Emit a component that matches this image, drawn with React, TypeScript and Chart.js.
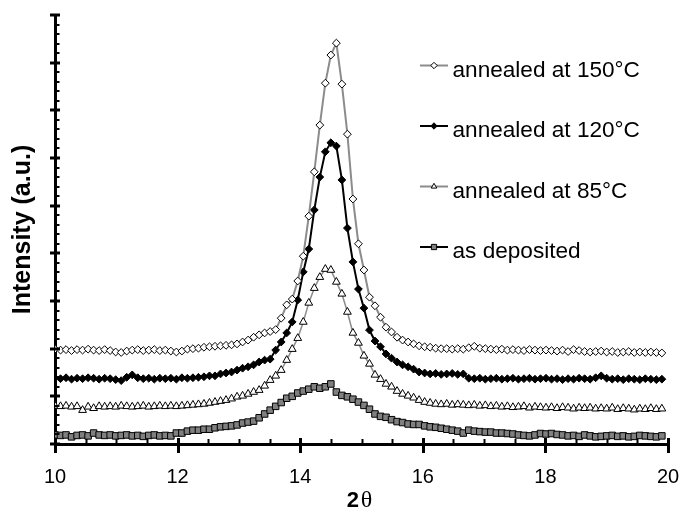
import React, { useEffect, useRef } from 'react';
import { Chart, registerables } from 'chart.js';

Chart.register(...registerables);

// 2θ positions (degrees)
const twoTheta = [
  10.00, 10.09, 10.18, 10.27, 10.36, 10.45, 10.54, 10.63, 10.72, 10.81,
  10.90, 10.99, 11.08, 11.17, 11.26, 11.35, 11.44, 11.53, 11.62, 11.71,
  11.80, 11.89, 11.98, 12.07, 12.16, 12.25, 12.34, 12.43, 12.52, 12.61,
  12.70, 12.79, 12.88, 12.97, 13.06, 13.15, 13.24, 13.33, 13.42, 13.51,
  13.60, 13.69, 13.78, 13.87, 13.96, 14.05, 14.14, 14.23, 14.32, 14.41,
  14.50, 14.59, 14.68, 14.77, 14.86, 14.95, 15.04, 15.13, 15.22, 15.31,
  15.40, 15.49, 15.58, 15.67, 15.76, 15.85, 15.94, 16.03, 16.12, 16.21,
  16.30, 16.39, 16.48, 16.57, 16.66, 16.75, 16.84, 16.93, 17.02, 17.11,
  17.20, 17.29, 17.38, 17.47, 17.56, 17.65, 17.74, 17.83, 17.92, 18.01,
  18.10, 18.19, 18.28, 18.37, 18.46, 18.55, 18.64, 18.73, 18.82, 18.91,
  19.00, 19.09, 19.18, 19.27, 19.36, 19.45, 19.54, 19.63, 19.72, 19.81,
  19.90,
];

const annealed150 = [
  199, 197, 198, 196, 198, 197, 199, 197, 196, 198,
  196, 193, 192, 195, 197, 198, 196, 197, 198, 196,
  197, 195, 193, 195, 199, 200, 201, 203, 204, 205,
  206, 207, 208, 210, 214, 218, 224, 229, 233, 236,
  240, 264, 292, 304, 342, 394, 478, 571, 669, 757,
  816, 841, 755, 650, 514, 420, 365, 308, 290, 266,
  245, 235, 224, 218, 214, 210, 206, 204, 203, 201,
  200, 200, 199, 200, 199, 202, 205, 201, 200, 199,
  198, 199, 197, 198, 197, 196, 198, 197, 196, 197,
  196, 195, 197, 194, 198, 196, 194, 193, 194, 195,
  193, 194, 192, 193, 194, 192, 193, 192, 193, 192,
  191,
];

const annealed120 = [
  138, 137, 139, 136, 138, 137, 139, 138, 136, 138,
  137, 135, 133, 140, 145, 139, 137, 138, 136, 138,
  137, 138, 136, 139, 138, 139, 140, 141, 143, 143,
  147, 149, 151, 155, 159, 162, 166, 172, 176, 178,
  197, 214, 233, 256, 302, 361, 409, 491, 560, 613,
  632, 625, 554, 453, 382, 325, 285, 239, 216, 204,
  189, 180, 172, 166, 162, 157, 151, 149, 147, 148,
  146, 147, 148, 146, 147, 138, 137, 138, 136, 137,
  138, 136, 137, 138, 136, 137, 138, 136, 137, 138,
  136, 137, 135, 137, 136, 138, 137, 136, 139, 143,
  138, 136, 137, 135, 137, 136, 135, 137, 136, 135,
  136,
];

const annealed85 = [
  80, 79, 80, 78, 79, 71, 78, 75, 79, 78,
  79, 78, 80, 79, 78, 79, 80, 78, 79, 80,
  79, 80, 79, 80, 81, 82, 83, 84, 86, 88,
  90, 92, 95, 99, 101, 105, 109, 113, 122, 134,
  143, 155, 176, 199, 222, 256, 296, 327, 350, 367,
  365, 340, 315, 277, 233, 212, 185, 168, 145, 136,
  126, 120, 111, 105, 101, 97, 92, 88, 86, 84,
  83, 84, 82, 83, 82, 81, 82, 80, 81, 79,
  80, 78, 79, 77, 78, 79, 76, 78, 77, 76,
  77, 75, 77, 76, 74, 76, 75, 76, 74, 75,
  74, 76, 73, 75, 74, 72, 74, 73, 75, 73,
  74,
];

const asDeposited = [
  19, 18, 19, 15, 18, 19, 17, 23, 19, 18,
  19, 17, 18, 19, 17, 18, 16, 18, 19, 17,
  18, 17, 23, 23, 27, 29, 29, 31, 31, 34,
  36, 37, 38, 40, 44, 46, 48, 55, 63, 71,
  79, 87, 96, 100, 107, 111, 115, 120, 117, 120,
  126, 109, 102, 99, 94, 88, 81, 73, 63, 58,
  56, 51, 47, 45, 42, 41, 41, 38, 36, 35,
  33, 31, 29, 27, 23, 29, 27, 26, 25, 25,
  23, 23, 22, 21, 19, 18, 17, 19, 22, 21,
  22, 20, 19, 17, 18, 16, 19, 17, 15, 16,
  17, 18, 16, 17, 15, 16, 18, 17, 16, 15,
  17,
];

const seriesLabels = ['annealed at 150°C', 'annealed at 120°C', 'annealed at 85°C', 'as deposited'];
const xTitleMain = '2';
const xTitleGreek = 'θ';
const yTitle = 'Intensity (a.u.)';

const SANS = "'Liberation Sans', Arial, Helvetica, sans-serif";
const SERIF = "'Liberation Serif', 'Times New Roman', serif";
const GRAY = '#8c8c8c';

function drawMarker(ctx: CanvasRenderingContext2D, style: string, x: number, y: number, r: number, fill: string) {
  ctx.beginPath();
  if (style === 'rectRot') {
    ctx.moveTo(x, y - r);
    ctx.lineTo(x + r, y);
    ctx.lineTo(x, y + r);
    ctx.lineTo(x - r, y);
    ctx.closePath();
  } else if (style === 'triangle') {
    ctx.moveTo(x, y - r);
    ctx.lineTo(x + r * 0.866, y + r * 0.5);
    ctx.lineTo(x - r * 0.866, y + r * 0.5);
    ctx.closePath();
  } else {
    const s = r * 0.75;
    ctx.rect(x - s, y - s, 2 * s, 2 * s);
  }
  ctx.fillStyle = fill;
  ctx.fill();
  ctx.lineWidth = 1;
  ctx.strokeStyle = '#000';
  ctx.stroke();
}

const decorPlugin = {
  id: 'decor',
  afterDraw(chart: any) {
    const ctx: CanvasRenderingContext2D = chart.ctx;
    const xs = chart.scales.x;
    const ys = chart.scales.y;
    const area = chart.chartArea;
    ctx.save();
    ctx.strokeStyle = '#000';
    ctx.lineCap = 'butt';
    const seg = (x1: number, y1: number, x2: number, y2: number) => {
      ctx.beginPath();
      ctx.moveTo(x1, y1);
      ctx.lineTo(x2, y2);
      ctx.stroke();
    };
    // x-axis ticks: major every 2, minor every 0.5
    for (let i = 0; i <= 20; i++) {
      const v = 10 + i * 0.5;
      const px = Math.round(xs.getPixelForValue(v)) + 0.5;
      if (i % 4 === 0) {
        ctx.lineWidth = 3;
        seg(px, area.bottom - 6, px, area.bottom + 9);
      } else {
        ctx.lineWidth = 2;
        seg(px, area.bottom - 5, px, area.bottom + 1);
      }
    }
    // y-axis ticks: major every 100, minor every 20
    for (let i = 0; i <= 45; i++) {
      const v = i * 20;
      const py = Math.round(ys.getPixelForValue(v));
      if (i % 5 === 0) {
        ctx.lineWidth = 3;
        seg(area.left - 5, py, area.left + 5, py);
      } else {
        ctx.lineWidth = 2;
        seg(area.left, py, area.left + 4.5, py);
      }
    }
    // legend
    const ds = chart.data.datasets;
    ctx.textBaseline = 'alphabetic';
    ctx.textAlign = 'left';
    ctx.font = `22.6px ${SANS}`;
    for (let i = 0; i < ds.length; i++) {
      const d = ds[i];
      const ly = 65.5 + i * 60.5;
      ctx.strokeStyle = d.borderColor;
      ctx.lineWidth = 2;
      seg(420, ly, 448, ly);
      drawMarker(ctx, d.pointStyle, 434, ly, d.pointStyle === 'rect' ? 3.5 : 3.2, d.pointBackgroundColor);
      ctx.fillStyle = '#000';
      ctx.fillText(d.label, 452.5, ly + 11);
    }
    // x title "2θ"
    ctx.font = `bold 22px ${SANS}`;
    const w2 = ctx.measureText(xTitleMain).width;
    ctx.font = `24px ${SERIF}`;
    const wt = ctx.measureText(xTitleGreek).width;
    const total = w2 + 2 + wt;
    const x0 = 359.5 - total / 2;
    ctx.fillStyle = '#000';
    ctx.font = `bold 22px ${SANS}`;
    ctx.fillText(xTitleMain, x0, 507);
    ctx.font = `24px ${SERIF}`;
    ctx.fillText(xTitleGreek, x0 + w2 + 2, 507);
    ctx.restore();
  },
};

export default function App() {
  const ref = useRef<HTMLCanvasElement>(null);
  useEffect(() => {
    const toPts = (arr: number[]) => twoTheta.map((x, i) => ({ x, y: arr[i] }));
    const chart = new Chart(ref.current as HTMLCanvasElement, {
      type: 'line',
      data: {
        datasets: [
          {
            label: seriesLabels[0],
            data: toPts(annealed150),
            borderColor: GRAY,
            borderWidth: 2,
            pointStyle: 'rectRot',
            pointRadius: 3.9,
            pointBackgroundColor: '#ffffff',
            pointBorderColor: '#000000',
            pointBorderWidth: 1,
            tension: 0,
          },
          {
            label: seriesLabels[1],
            data: toPts(annealed120),
            borderColor: '#000000',
            borderWidth: 2,
            pointStyle: 'rectRot',
            pointRadius: 3.9,
            pointBackgroundColor: '#000000',
            pointBorderColor: '#000000',
            pointBorderWidth: 1,
            tension: 0,
          },
          {
            label: seriesLabels[2],
            data: toPts(annealed85),
            borderColor: GRAY,
            borderWidth: 1.5,
            pointStyle: 'triangle',
            pointRadius: 4.5,
            pointBackgroundColor: '#ffffff',
            pointBorderColor: '#000000',
            pointBorderWidth: 1,
            tension: 0,
          },
          {
            label: seriesLabels[3],
            data: toPts(asDeposited),
            borderColor: '#000000',
            borderWidth: 1,
            pointStyle: 'rect',
            pointRadius: 4.6,
            pointBackgroundColor: '#808080',
            pointBorderColor: '#000000',
            pointBorderWidth: 1,
            tension: 0,
          },
        ],
      } as any,
      options: {
        responsive: false,
        animation: false,
        devicePixelRatio: 1,
        layout: { padding: { top: 15, right: 13, left: 0, bottom: 0 } },
        plugins: {
          legend: { display: false },
          tooltip: { enabled: false },
        },
        scales: {
          x: {
            type: 'linear',
            min: 10,
            max: 20,
            grid: { display: false, drawTicks: false },
            border: { display: true, color: '#000', width: 3 },
            ticks: {
              stepSize: 2,
              padding: 21,
              color: '#000',
              font: { family: SANS, size: 20 },
              maxRotation: 0,
            },
            afterFit: (s: any) => { s.height = 64; s.paddingLeft = 0; s.paddingRight = 0; },
          },
          y: {
            type: 'linear',
            min: 0,
            max: 900,
            grid: { display: false, drawTicks: false },
            border: { display: true, color: '#000', width: 3 },
            ticks: { display: false },
            title: {
              display: true,
              text: yTitle,
              color: '#000',
              font: { family: SANS, size: 25, weight: 'bold' },
              padding: { top: 8, bottom: 0 },
            },
            afterFit: (s: any) => { s.width = 55; s.paddingTop = 0; s.paddingBottom = 0; },
          },
        },
      } as any,
      plugins: [decorPlugin],
    });
    return () => chart.destroy();
  }, []);
  return (
    <div style={{ position: 'fixed', left: 0, top: 0, width: 681, height: 508, background: '#fff' }}>
      <canvas ref={ref} width={681} height={508} style={{ display: 'block', width: 681, height: 508 }} />
    </div>
  );
}
